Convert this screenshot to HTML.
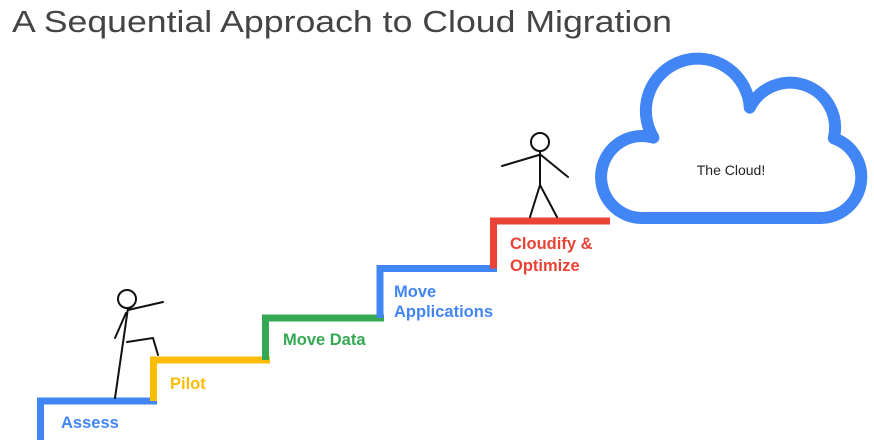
<!DOCTYPE html>
<html><head><meta charset="utf-8"><style>
html,body{margin:0;padding:0;background:#fff;}
svg{display:block;}
text{font-family:"Liberation Sans",sans-serif;}
</style></head><body>
<svg width="874" height="447" viewBox="0 0 874 447" xmlns="http://www.w3.org/2000/svg">
<text x="12" y="32" font-size="31" fill="#444" textLength="660" lengthAdjust="spacingAndGlyphs">A Sequential Approach to Cloud Migration</text>
<g fill="none" stroke-width="7" stroke-linecap="butt" stroke-linejoin="miter">
<path d="M40.5 440 V401 H157" stroke="#4285f4"/>
<path d="M153.5 401 V360 H270" stroke="#fbbc05"/>
<path d="M265.5 360 V318 H384" stroke="#34a853"/>
<path d="M380 318 V268.5 H497" stroke="#4285f4"/>
<path d="M493.5 268.5 V221 H610" stroke="#ea4335"/>
</g>
<g font-weight="bold" font-size="16.5">
<text x="61" y="428" fill="#4285f4">Assess</text>
<text x="170" y="389" fill="#fbbc05">Pilot</text>
<text x="283" y="345" fill="#34a853">Move Data</text>
<text x="394" y="297" fill="#4285f4">Move</text>
<text x="394" y="317" fill="#4285f4">Applications</text>
<text x="510" y="249" fill="#ea4335">Cloudify &amp;</text>
<text x="510" y="271" fill="#ea4335">Optimize</text>
</g>
<path d="M642 218 A41 41 0 1 1 653.4 137.6 A52 52 0 1 1 749.8 107.6 A45 45 0 0 1 833.8 138.3 A41 41 0 0 1 820 218 Z" fill="#fff" stroke="#4285f4" stroke-width="12" stroke-linejoin="round"/>
<text x="731" y="175" font-size="14" fill="#222" text-anchor="middle">The Cloud!</text>
<g fill="none" stroke="#111" stroke-width="2" stroke-linecap="round">
<circle cx="540" cy="142" r="9"/>
<path d="M540 151 V185 M539 155 L502 166 M541 155 L568 177 M540 185 L530 217 M540 185 L557 217"/>
<circle cx="127" cy="299" r="9"/>
<path d="M128 308 L115 398 M128 310 L163 302 M126 313 L115 338 M127 342 L153 338 L158 355"/>
</g>
</svg>
</body></html>
